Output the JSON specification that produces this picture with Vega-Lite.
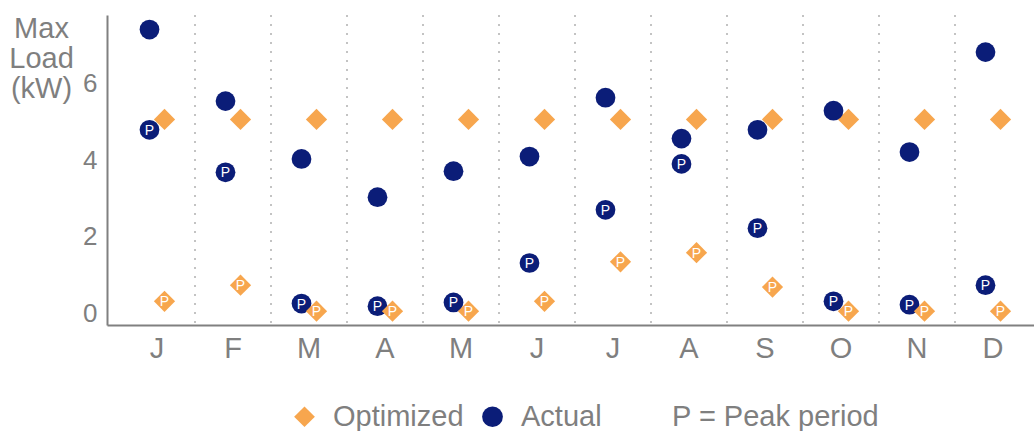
{
  "$schema": "https://vega.github.io/schema/vega-lite/v6.json",
  "width": 927,
  "height": 310,
  "autosize": {"type": "none"},
  "padding": {"left": 107, "top": 15, "right": 0, "bottom": 106},
  "background": "white",
  "config": {
    "view": {"stroke": null},
    "font": "Liberation Sans",
    "axis": {"labelFont": "Liberation Sans", "titleFont": "Liberation Sans"},
    "legend": {"labelFont": "Liberation Sans", "titleFont": "Liberation Sans"}
  },
  "data": {
    "values": [
      {"month": "Jan", "type": "Actual", "kind": "max", "value": 7.42},
      {"month": "Jan", "type": "Actual", "kind": "peak", "value": 4.80},
      {"month": "Jan", "type": "Optimized", "kind": "max", "value": 5.07},
      {"month": "Jan", "type": "Optimized", "kind": "peak", "value": 0.32},
      {"month": "Feb", "type": "Actual", "kind": "max", "value": 5.55},
      {"month": "Feb", "type": "Actual", "kind": "peak", "value": 3.69},
      {"month": "Feb", "type": "Optimized", "kind": "max", "value": 5.07},
      {"month": "Feb", "type": "Optimized", "kind": "peak", "value": 0.74},
      {"month": "Mar", "type": "Actual", "kind": "max", "value": 4.04},
      {"month": "Mar", "type": "Actual", "kind": "peak", "value": 0.26},
      {"month": "Mar", "type": "Optimized", "kind": "max", "value": 5.07},
      {"month": "Mar", "type": "Optimized", "kind": "peak", "value": 0.06},
      {"month": "Apr", "type": "Actual", "kind": "max", "value": 3.04},
      {"month": "Apr", "type": "Actual", "kind": "peak", "value": 0.19},
      {"month": "Apr", "type": "Optimized", "kind": "max", "value": 5.07},
      {"month": "Apr", "type": "Optimized", "kind": "peak", "value": 0.06},
      {"month": "May", "type": "Actual", "kind": "max", "value": 3.72},
      {"month": "May", "type": "Actual", "kind": "peak", "value": 0.29},
      {"month": "May", "type": "Optimized", "kind": "max", "value": 5.07},
      {"month": "May", "type": "Optimized", "kind": "peak", "value": 0.06},
      {"month": "Jun", "type": "Actual", "kind": "max", "value": 4.10},
      {"month": "Jun", "type": "Actual", "kind": "peak", "value": 1.32},
      {"month": "Jun", "type": "Optimized", "kind": "max", "value": 5.07},
      {"month": "Jun", "type": "Optimized", "kind": "peak", "value": 0.32},
      {"month": "Jul", "type": "Actual", "kind": "max", "value": 5.64},
      {"month": "Jul", "type": "Actual", "kind": "peak", "value": 2.71},
      {"month": "Jul", "type": "Optimized", "kind": "max", "value": 5.07},
      {"month": "Jul", "type": "Optimized", "kind": "peak", "value": 1.35},
      {"month": "Aug", "type": "Actual", "kind": "max", "value": 4.57},
      {"month": "Aug", "type": "Actual", "kind": "peak", "value": 3.91},
      {"month": "Aug", "type": "Optimized", "kind": "max", "value": 5.07},
      {"month": "Aug", "type": "Optimized", "kind": "peak", "value": 1.59},
      {"month": "Sep", "type": "Actual", "kind": "max", "value": 4.80},
      {"month": "Sep", "type": "Actual", "kind": "peak", "value": 2.23},
      {"month": "Sep", "type": "Optimized", "kind": "max", "value": 5.07},
      {"month": "Sep", "type": "Optimized", "kind": "peak", "value": 0.69},
      {"month": "Oct", "type": "Actual", "kind": "max", "value": 5.30},
      {"month": "Oct", "type": "Actual", "kind": "peak", "value": 0.32},
      {"month": "Oct", "type": "Optimized", "kind": "max", "value": 5.07},
      {"month": "Oct", "type": "Optimized", "kind": "peak", "value": 0.06},
      {"month": "Nov", "type": "Actual", "kind": "max", "value": 4.22},
      {"month": "Nov", "type": "Actual", "kind": "peak", "value": 0.23},
      {"month": "Nov", "type": "Optimized", "kind": "max", "value": 5.07},
      {"month": "Nov", "type": "Optimized", "kind": "peak", "value": 0.06},
      {"month": "Dec", "type": "Actual", "kind": "max", "value": 6.83},
      {"month": "Dec", "type": "Actual", "kind": "peak", "value": 0.74},
      {"month": "Dec", "type": "Optimized", "kind": "max", "value": 5.07},
      {"month": "Dec", "type": "Optimized", "kind": "peak", "value": 0.06}
    ]
  },
  "encoding": {
    "x": {
      "field": "month", "type": "ordinal",
      "sort": ["Jan","Feb","Mar","Apr","May","Jun","Jul","Aug","Sep","Oct","Nov","Dec"],
      "scale": {"paddingInner": 0, "paddingOuter": 0.0987, "align": 0.8},
      "axis": {
        "title": null, "labelAngle": 0, "ticks": false, "grid": false,
        "labelExpr": "substring(datum.value, 0, 1)",
        "labelFontSize": 29, "labelColor": "#7f7f7f", "labelPadding": 9,
        "domainColor": "#808080", "domainWidth": 2
      }
    }
  },
  "layer": [
    {
      "transform": [
        {"aggregate": [], "groupby": ["month"]},
        {"filter": "datum.month != 'Jan'"}
      ],
      "mark": {"type": "rule", "color": "#b0b0b0", "strokeWidth": 1.5, "strokeDash": [2, 7]},
      "encoding": {
        "x": {"field": "month", "type": "ordinal", "bandPosition": 0}
      }
    },
    {
      "transform": [{"filter": "datum.type == 'Actual' && datum.kind == 'peak'"}],
      "mark": {"type": "point", "filled": true, "opacity": 1, "size": 390, "xOffset": -7.5},
      "encoding": {
        "y": {"field": "value", "type": "quantitative"},
        "color": {"field": "type"},
        "shape": {"field": "type"}
      }
    },
    {
      "transform": [{"filter": "datum.type == 'Optimized'"}],
      "mark": {"type": "point", "filled": true, "opacity": 1, "size": 450, "xOffset": 7.5},
      "encoding": {
        "y": {"field": "value", "type": "quantitative"},
        "color": {"field": "type"},
        "shape": {"field": "type"}
      }
    },
    {
      "transform": [{"filter": "datum.type == 'Actual' && datum.kind == 'max'"}],
      "mark": {"type": "point", "filled": true, "opacity": 1, "size": 390, "xOffset": -7.5},
      "encoding": {
        "y": {
          "field": "value", "type": "quantitative",
          "scale": {"domain": [-0.3, 7.8], "nice": false, "zero": false},
          "axis": {
            "values": [0, 2, 4, 6], "grid": false, "ticks": false,
            "labelFontSize": 26, "labelColor": "#7f7f7f", "labelPadding": 10,
            "domainColor": "#808080", "domainWidth": 2,
            "title": ["Max", "Load", "(kW)"],
            "titleAngle": 0, "titleAlign": "center", "titleBaseline": "alphabetic",
            "titleX": -66, "titleY": 22, "titleLineHeight": 30,
            "titleFontSize": 29, "titleFontWeight": "normal", "titleColor": "#7f7f7f"
          }
        },
        "color": {
          "field": "type", "type": "nominal",
          "scale": {"domain": ["Optimized", "Actual"], "range": ["#f7a64e", "#0b1d78"]},
          "legend": {
            "orient": "none", "legendX": 183, "legendY": 387, "direction": "horizontal",
            "padding": 0, "title": "P = Peak period", "titleOrient": "right",
            "titlePadding": 70, "titleFontSize": 29, "titleFontWeight": "normal",
            "titleColor": "#7f7f7f", "titleBaseline": "middle", "titleLimit": 0,
            "labelFontSize": 29, "labelColor": "#7f7f7f", "labelOffset": 14, "labelLimit": 0,
            "columnPadding": 14, "symbolSize": 430, "symbolStrokeWidth": 0, "symbolOpacity": 1
          }
        },
        "shape": {
          "field": "type", "type": "nominal",
          "scale": {"domain": ["Optimized", "Actual"], "range": ["diamond", "circle"]}
        }
      }
    },
    {
      "transform": [{"filter": "datum.kind == 'peak' && datum.type == 'Actual'"}],
      "mark": {"type": "text", "text": "P", "color": "white", "fontSize": 14, "baseline": "middle", "align": "center", "dy": 1, "xOffset": -7.5},
      "encoding": {
        "y": {"field": "value", "type": "quantitative"}
      }
    },
    {
      "transform": [{"filter": "datum.kind == 'peak' && datum.type == 'Optimized'"}],
      "mark": {"type": "text", "text": "P", "color": "white", "fontSize": 14, "baseline": "middle", "align": "center", "dy": 1, "xOffset": 7.5},
      "encoding": {
        "y": {"field": "value", "type": "quantitative"}
      }
    }
  ]
}
